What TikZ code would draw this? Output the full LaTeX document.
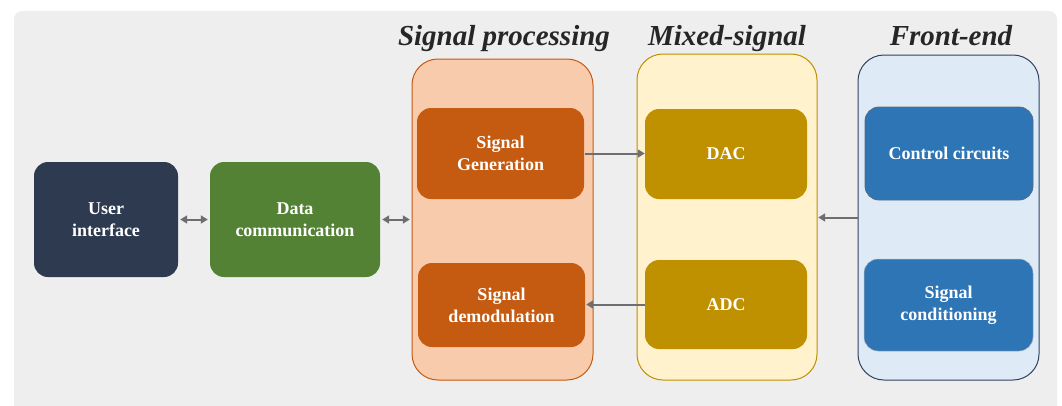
\documentclass[tikz,border=0pt]{standalone}
\usepackage{fontspec}
\setmainfont{Liberation Serif}
\usetikzlibrary{arrows.meta}
\definecolor{bggray}{HTML}{EEEEEE}
\definecolor{uinavy}{HTML}{2D3A4F}
\definecolor{dcgreen}{HTML}{548235}
\definecolor{spfill}{HTML}{F8CBAD}
\definecolor{spdark}{HTML}{C55A11}
\definecolor{msfill}{HTML}{FFF2CC}
\definecolor{msdark}{HTML}{BF9000}
\definecolor{fefill}{HTML}{DEEBF7}
\definecolor{feedge}{HTML}{2F4360}
\definecolor{feblue}{HTML}{2E75B6}
\definecolor{arrgray}{HTML}{6E6E72}
\tikzset{
  blockbox/.style={rounded corners=14pt, inner sep=0pt, text=white,
    font=\fontsize{18}{22}\selectfont\bfseries, align=center},
  groupbox/.style={rounded corners=26pt, line width=1pt},
  grouptitle/.style={font=\fontsize{29}{32}\selectfont\bfseries\itshape, text=black!85},
  conn/.style={draw=arrgray, line width=2pt, -{Triangle[length=7pt,width=8pt]}},
  biconn/.style={draw=arrgray, line width=2pt, {Triangle[length=7pt,width=8pt]}-{Triangle[length=7pt,width=8pt]}}
}
\begin{document}
\begin{tikzpicture}[x=1pt,y=-1pt]
\useasboundingbox (0,0) rectangle (1062,405);
\fill[white] (0,0) rectangle (1062,405);
\fill[bggray, rounded corners=8pt] (14,11) rectangle (1057,420);

% group containers
\draw[groupbox, draw=spdark, fill=spfill] (412,59) rectangle (593,380);
\draw[groupbox, draw=msdark, fill=msfill] (637,54) rectangle (817,380);
\draw[groupbox, draw=feedge, fill=fefill] (858,55) rectangle (1039,380);
\node (spbox) at (502.5,219.5) [minimum width=181pt, minimum height=321pt] {};
\node (msbox) at (727,217) [minimum width=180pt, minimum height=326pt] {};
\node (febox) at (948.5,217.5) [minimum width=181pt, minimum height=325pt] {};

% titles
\node[grouptitle, anchor=base] (sptitle) at (504,45) {Signal processing};
\node[grouptitle, anchor=base] (mstitle) at (727,45) {Mixed-signal};
\node[grouptitle, anchor=base] (fetitle) at (951,45) {Front-end};

% blocks
\node[blockbox, fill=uinavy, minimum width=144pt, minimum height=115pt] (ui) at (106,219.5) {User\\interface};
\node[blockbox, fill=dcgreen, minimum width=170pt, minimum height=115pt] (dc) at (295,219.5) {Data\\communication};
\node[blockbox, fill=spdark, minimum width=167pt, minimum height=91pt] (sg) at (500.5,153.5) {Signal\\Generation};
\node[blockbox, fill=spdark, minimum width=167pt, minimum height=84pt] (sd) at (501.5,305) {Signal\\demodulation};
\node[blockbox, fill=msdark, minimum width=162pt, minimum height=90pt] (dac) at (726,154) {DAC};
\node[blockbox, fill=msdark, minimum width=162pt, minimum height=89pt] (adc) at (726,304.5) {ADC};
\node[blockbox, fill=feblue, draw=feedge!80, line width=0.8pt, minimum width=168pt, minimum height=93pt] (cc) at (949,153.5) {Control circuits};
\node[blockbox, fill=feblue, draw=feedge!40, line width=0.5pt, minimum width=169pt, minimum height=92pt] (sc) at (948.5,305) {Signal\\conditioning};

% connectors
\draw[biconn, shorten <=2pt, shorten >=2pt] (ui.east) -- (dc.west);
\draw[biconn, shorten <=2pt, shorten >=2pt] (dc.east) -- (spbox.west |- dc.east);
\draw[conn, shorten <=1pt] (sg.east) -- (dac.west |- sg.east);
\draw[conn, shorten >=1pt] (adc.west) -- (sd.east |- adc.west);
\draw[conn, shorten >=1pt] (febox.west) -- (msbox.east |- febox.west);
\end{tikzpicture}
\end{document}
